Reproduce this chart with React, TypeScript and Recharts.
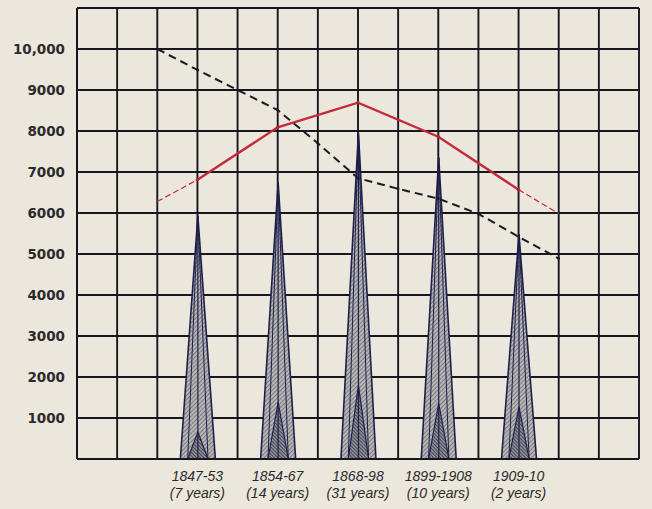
import React from "react";
import { ComposedChart, Bar, Line, XAxis, YAxis, CartesianGrid } from "recharts";

// Grid positions along the horizontal scale (one vertical rule per unit)
const gridTicksX = [0, 1, 2, 3, 4, 5, 6, 7, 8, 9, 10, 11, 12, 13, 14];
const gridTicksY = [0, 1000, 2000, 3000, 4000, 5000, 6000, 7000, 8000, 9000, 10000, 11000];
const yTickLabels: Record<number, string> = {
  1000: "1000", 2000: "2000", 3000: "3000", 4000: "4000", 5000: "5000",
  6000: "6000", 7000: "7000", 8000: "8000", 9000: "9000", 10000: "10,000",
};

// Periods (spikes)
const spikeX = [3, 5, 7, 9, 11];
const periods = ["1847-53", "1854-67", "1868-98", "1899-1908", "1909-10"];
const durations = ["(7 years)", "(14 years)", "(31 years)", "(10 years)", "(2 years)"];
const spikeOuter = [5930, 6740, 7960, 7350, 5480];
const spikeInner = [660, 1390, 1800, 1360, 1270];

// Lines
const lineX = [2, 3, 4, 5, 6, 7, 8, 9, 10, 11, 12];
const blackDashed = [10000, 9490, 9000, 8510, 7700, 6850, 6590, 6350, 5980, 5420, 4890];
const redSolid: (number | null)[] = [null, 6810, null, 8090, null, 8690, null, 7860, null, 6570, null];
const redEnds: (number | null)[] = [6280, 6810, null, null, null, null, null, null, null, 6570, 5985];

const data = lineX.map((x, i) => {
  const si = spikeX.indexOf(x);
  return {
    x,
    black: blackDashed[i],
    red: redSolid[i],
    redEnd: redEnds[i],
    spike: si >= 0 ? spikeOuter[si] : undefined,
    inner: si >= 0 ? spikeInner[si] : undefined,
  };
});

const NAVY = "#1d1f4a";
const GRID = "#16161e";

const SpikeShape = (props: any) => {
  const { x, y, width, height, payload } = props;
  if (!height || height <= 0) return null;
  const base = y + height;
  const cx = x + width / 2;
  const midHalf = width * 0.29;
  const innerH = (height * payload.inner) / payload.spike;
  return (
    <g>
      <polygon
        points={`${x},${base} ${cx},${y} ${x + width},${base}`}
        fill="url(#hatchLight)"
        stroke={NAVY}
        strokeWidth={1.6}
      />
      <polyline
        points={`${cx - midHalf},${base} ${cx},${y} ${cx + midHalf},${base}`}
        fill="none"
        stroke={NAVY}
        strokeWidth={1}
      />
      <polygon
        points={`${cx - midHalf},${base} ${cx},${base - innerH} ${cx + midHalf},${base}`}
        fill="url(#hatchDark)"
        stroke={NAVY}
        strokeWidth={1.2}
      />
      <line x1={cx} y1={y} x2={cx} y2={base} stroke={NAVY} strokeWidth={1.2} />
    </g>
  );
};

const XTick = (props: any) => {
  const { x, y, payload } = props;
  const i = spikeX.indexOf(payload.value);
  if (i < 0) return null;
  return (
    <g>
      <text x={x} y={y + 14} textAnchor="middle" fontFamily="'Liberation Sans', Arial, sans-serif" fontStyle="italic" fontSize={14} fill="#2a2a2a">
        {periods[i]}
      </text>
      <text x={x} y={y + 31} textAnchor="middle" fontFamily="'Liberation Sans', Arial, sans-serif" fontStyle="italic" fontSize={14} fill="#2a2a2a">
        {durations[i]}
      </text>
    </g>
  );
};

const YTick = (props: any) => {
  const { y, payload } = props;
  const label = yTickLabels[payload.value];
  if (!label) return null;
  return (
    <text x={65} y={y + 5} textAnchor="end" fontFamily="'DejaVu Sans', sans-serif" fontWeight={700} fontSize={13.5} fill="#2b2b2b">
      {label}
    </text>
  );
};

export default function App() {
  return (
    <div style={{ width: 652, height: 509, background: "#ebe7dd" }}>
      <style>{`body{margin:0;background:#ebe7dd;}`}</style>
      <ComposedChart
        width={652}
        height={509}
        data={data}
        margin={{ top: 8, right: 13, bottom: 0, left: 0 }}
      >
        <defs>
          <pattern id="hatchLight" patternUnits="userSpaceOnUse" width="3" height="3" patternTransform="rotate(45)">
            <rect width="3" height="3" fill="#b9b7b4" />
            <line x1="0" y1="0" x2="0" y2="3" stroke="#45455a" strokeWidth="1.1" />
          </pattern>
          <pattern id="hatchDark" patternUnits="userSpaceOnUse" width="2.5" height="2.5" patternTransform="rotate(-45)">
            <rect width="2.5" height="2.5" fill="#8c8a92" />
            <line x1="0" y1="0" x2="0" y2="2.5" stroke="#22223a" strokeWidth="1.2" />
          </pattern>
        </defs>
        <CartesianGrid stroke={GRID} strokeWidth={1.9} horizontal vertical />
        <XAxis
          type="number"
          dataKey="x"
          domain={[0, 14]}
          ticks={gridTicksX}
          interval={0}
          height={50}
          axisLine={{ stroke: GRID, strokeWidth: 2 }}
          tickLine={false}
          tick={<XTick />}
        />
        <YAxis
          type="number"
          domain={[0, 11000]}
          ticks={gridTicksY}
          interval={0}
          width={77}
          axisLine={{ stroke: GRID, strokeWidth: 2 }}
          tickLine={false}
          tick={<YTick />}
        />
        <Bar dataKey="spike" barSize={35} shape={<SpikeShape />} isAnimationActive={false} />
        <Line
          dataKey="redEnd"
          stroke="#c42a3c"
          strokeWidth={1.2}
          strokeDasharray="6 3"
          dot={false}
          connectNulls={false}
          isAnimationActive={false}
        />
        <Line
          dataKey="red"
          stroke="#c42a3c"
          strokeWidth={2.4}
          dot={{ r: 1.8, fill: "#b0223a", stroke: "none" }}
          connectNulls
          isAnimationActive={false}
        />
        <Line
          dataKey="black"
          stroke="#1a1a22"
          strokeWidth={2}
          strokeDasharray="8 5"
          dot={{ r: 1.3, fill: "#1a1a22", stroke: "none" }}
          isAnimationActive={false}
        />
      </ComposedChart>
    </div>
  );
}
